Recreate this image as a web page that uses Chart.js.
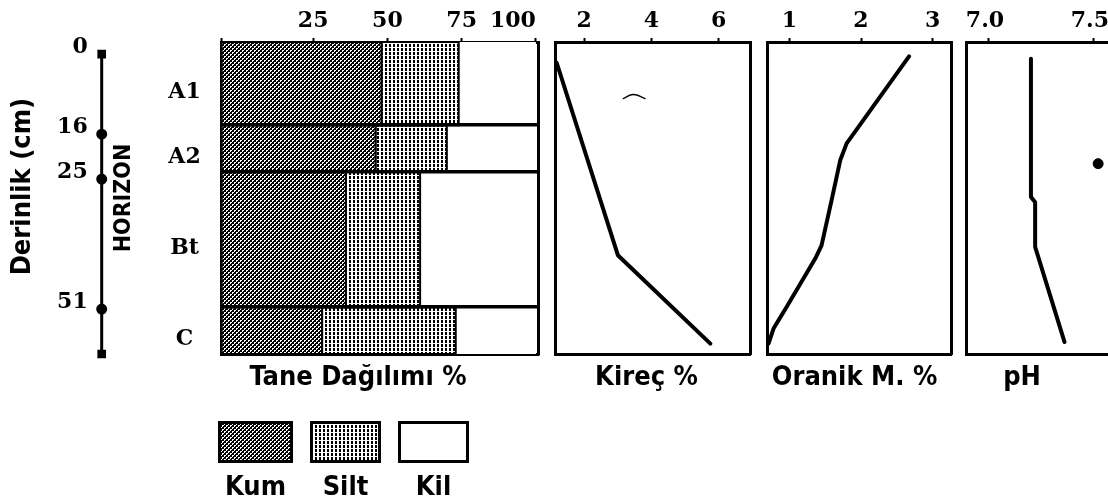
<!DOCTYPE html>
<html lang="tr">
<head>
<meta charset="utf-8">
<title>Toprak profili</title>
<script src="https://cdn.jsdelivr.net/npm/chart.js@4.4.1/dist/chart.umd.min.js"></script>
<style>
  html, body { margin: 0; padding: 0; background: #fff; }
  body { width: 1108px; height: 504px; position: relative; overflow: hidden; }
  canvas.panel { position: absolute; top: 0; }
  #legend { position: absolute; left: 218px; top: 421px; display: flex; gap: 17px; }
  .legend-item { display: flex; flex-direction: column; align-items: center; }
  .legend-item span { font: bold 27px 'DejaVu Sans Condensed', 'DejaVu Sans', sans-serif; line-height: 27px; margin-top: 9px; color: #000; }
</style>
</head>
<body>
<canvas id="depthChart" class="panel" width="140" height="395" style="left:0"></canvas>
<canvas id="textureChart" class="panel" width="492" height="395" style="left:112px"></canvas>
<canvas id="kirecChart" class="panel" width="213" height="395" style="left:540px"></canvas>
<canvas id="organikChart" class="panel" width="199" height="395" style="left:755px"></canvas>
<canvas id="phChart" class="panel" width="172" height="395" style="left:936px"></canvas>
<div id="legend"></div>
<script>
// Horizons (depth in cm)
const horizons = ['A1', 'A2', 'Bt', 'C'];
const horizonTop = [0, 16, 25, 51];
const horizonBottom = [16, 25, 51, 60];

// Tane dağılımı %
const kum = [48, 46, 36, 28];
const silt = [26, 24, 25, 45];
const kil = [26, 30, 39, 27];
const textureTicks = [25, 50, 75, 100];

// Kireç %
const kirecDepth = [4, 41, 58];
const kirec = [1.18, 3.0, 5.75];
const kirecTicks = [2, 4, 6];

// Organik madde %
const organikDepth = [2.75, 19.5, 22.75, 30.4, 39.1, 41.7, 51, 55.1, 58];
const organik = [2.67, 1.80, 1.71, 1.59, 1.45, 1.36, 0.96, 0.78, 0.71];
const organikTicks = [1, 2, 3];

// pH
const phDepth = [3.2, 29.8, 30.8, 39.4, 57.7];
const ph = [7.20, 7.20, 7.22, 7.22, 7.36];
const phTicks = [7.0, 7.5];

// stray marks on the scanned page
const kirecMarkDepth = [10.9, 10.1, 10.9];
const kirecMark = [3.16, 3.46, 3.81];
const phMarkDepth = [23.4];
const phMark = [7.52];

// axis ranges
const depthRange = [0, 60];
const textureRange = [-5.8, 100.8];
const kirecRange = [1.13, 6.93];
const organikRange = [0.693, 3.265];
const phRange = [6.894, 7.567];

const serif = "'DejaVu Serif', serif";
const sans = "'DejaVu Sans Condensed', 'DejaVu Sans', sans-serif";
const black = '#000';

Chart.defaults.color = black;

function toPoints(xs, ys) {
  return xs.map((x, i) => ({ x: x, y: ys[i] }));
}

// patterns for the texture fractions
function makeTile(draw) {
  const c = document.createElement('canvas');
  c.width = 4;
  c.height = 4;
  draw(c.getContext('2d'));
  return c;
}
const kumTile = makeTile(ctx => {
  ctx.fillStyle = '#000';
  ctx.fillRect(0, 0, 4, 4);
  ctx.fillStyle = '#fff';
  ctx.fillRect(0, 0, 2, 1);
  ctx.fillRect(0, 1, 1, 1);
  ctx.fillRect(2, 2, 2, 1);
  ctx.fillRect(2, 3, 1, 1);
});
const siltTile = makeTile(ctx => {
  ctx.fillStyle = '#fff';
  ctx.fillRect(0, 0, 4, 4);
  ctx.fillStyle = '#000';
  ctx.fillRect(1, 0, 2, 3);
});
const textureCtx = document.getElementById('textureChart').getContext('2d');
const fractions = [
  { label: 'Kum', values: kum, tile: kumTile, borderWidth: 2 },
  { label: 'Silt', values: silt, tile: siltTile, borderWidth: 2 },
  { label: 'Kil', values: kil, tile: null, borderWidth: 0 }
];
fractions.forEach(f => {
  f.fill = f.tile ? textureCtx.createPattern(f.tile, 'repeat') : '#fff';
});

const baseOptions = {
  responsive: false,
  animation: false,
  devicePixelRatio: 1,
  events: [],
  plugins: { legend: { display: false }, tooltip: { enabled: false } }
};

function titlePlugin(text) {
  return {
    display: true,
    text: text,
    position: 'bottom',
    color: black,
    font: { family: sans, size: 27, weight: 'bold', lineHeight: 1 },
    padding: { top: 10, bottom: 4 }
  };
}

// scales for one panel: ticks on top, box frame round the plot
function panelScales(range, ticks, leftWidth, rightWidth, labelFn, align) {
  const scales = {
    x: {
      type: 'linear',
      position: 'top',
      min: range[0],
      max: range[1],
      afterBuildTicks: s => { s.ticks = ticks.map(v => ({ value: v })); },
      afterFit: s => { s.height = 42; s.paddingLeft = 0; s.paddingRight = 0; },
      ticks: {
        autoSkip: false,
        maxRotation: 0,
        align: align || 'center',
        padding: 4,
        color: black,
        font: { family: serif, size: 22, weight: 'bold' },
        callback: labelFn || (v => v)
      },
      grid: { drawOnChartArea: false, tickLength: 4, tickWidth: 2, tickColor: black },
      border: { display: true, width: 3, color: black }
    },
    x2: {
      type: 'linear',
      position: 'bottom',
      ticks: { display: false },
      grid: { display: false },
      border: { display: true, width: 3, color: black },
      afterFit: s => { s.height = 0; }
    },
    y: {
      type: 'linear',
      position: 'left',
      min: depthRange[0],
      max: depthRange[1],
      reverse: true,
      ticks: { display: false },
      grid: { display: false },
      border: { display: true, width: 3, color: black },
      afterFit: s => { s.width = leftWidth; }
    }
  };
  if (rightWidth !== null) {
    scales.y2 = {
      type: 'linear',
      position: 'right',
      min: depthRange[0],
      max: depthRange[1],
      reverse: true,
      ticks: { display: false },
      grid: { display: false },
      border: { display: true, width: 3, color: black },
      afterFit: s => { s.width = rightWidth; }
    };
  }
  return scales;
}

function lineDataset(xs, depths) {
  return {
    data: toPoints(xs, depths),
    showLine: true,
    borderColor: black,
    borderWidth: 4,
    borderJoinStyle: 'round',
    borderCapStyle: 'round',
    pointRadius: 0,
    xAxisID: 'x',
    yAxisID: 'y'
  };
}

function panelOptions(title, scales) {
  return Object.assign({}, baseOptions, {
    layout: { autoPadding: false },
    plugins: Object.assign({}, baseOptions.plugins, { title: titlePlugin(title) }),
    scales: scales
  });
}

// Depth axis
const depthMarks = horizonTop.concat([horizonBottom[horizonBottom.length - 1]]);
new Chart(document.getElementById('depthChart'), {
  type: 'scatter',
  data: {
    datasets: [{
      data: depthMarks.map(d => ({ x: 0, y: d })),
      showLine: true,
      borderColor: black,
      borderWidth: 3,
      pointRadius: 4,
      pointStyle: depthMarks.map((d, i) => (i === 0 || i === depthMarks.length - 1) ? 'rect' : 'circle'),
      pointBackgroundColor: black,
      pointBorderColor: black,
      clip: false
    }]
  },
  options: Object.assign({}, baseOptions, {
    layout: { autoPadding: false, padding: { top: 5, bottom: 41 } },
    scales: {
      x: { type: 'linear', display: false, min: 0, max: 1 },
      y: {
        type: 'linear',
        min: -7,
        max: depthRange[1],
        reverse: true,
        afterBuildTicks: s => { s.ticks = horizonTop.map(v => ({ value: v })); },
        afterFit: s => { s.width = 101.7; },
        ticks: {
          padding: 6,
          labelOffset: -7,
          color: black,
          font: { family: serif, size: 22, weight: 'bold' }
        },
        grid: { display: false },
        border: { display: false },
        title: {
          display: true,
          text: 'Derinlik (cm)',
          color: black,
          font: { family: sans, size: 27, weight: 'bold', lineHeight: 1 },
          padding: { top: 9.5, bottom: 0 }
        }
      }
    }
  })
});

// Tane dağılımı
const textureDatasets = [];
horizons.forEach((h, i) => {
  let start = textureRange[0];
  let edge = 0;
  fractions.forEach(f => {
    edge += f.values[i];
    const top = horizonTop[i];
    const bottom = horizonBottom[i];
    textureDatasets.push({
      label: f.label + ' ' + h,
      data: [
        { x: start, y: top }, { x: edge, y: top },
        { x: edge, y: bottom }, { x: start, y: bottom }, { x: start, y: top }
      ],
      showLine: true,
      fill: 'shape',
      backgroundColor: f.fill,
      borderColor: black,
      borderWidth: f.borderWidth,
      pointRadius: 0,
      xAxisID: 'x',
      yAxisID: 'y'
    });
    start = edge;
  });
});

const textureScales = panelScales(textureRange, [textureRange[0]].concat(textureTicks), 109.7, 65.7,
  v => (v < 0 ? '' : v), 'inner');
textureScales.y.afterBuildTicks = s => {
  s.ticks = horizonTop.map((t, i) => ({ value: (t + horizonBottom[i]) / 2 }));
};
textureScales.y.ticks = {
  display: true,
  callback: (v, i) => horizons[i],
  crossAlign: 'center',
  padding: 13,
  labelOffset: 9,
  color: black,
  font: { family: serif, size: 22, weight: 'bold' }
};
textureScales.y.title = {
  display: true,
  text: 'HORİZON',
  color: black,
  font: { family: sans, size: 23, weight: 'bold', lineHeight: 1 },
  padding: { top: 0.5, bottom: 0 }
};
// horizon boundaries drawn over the fills (border on the same layer so it follows the grid)
textureScales.y2.afterBuildTicks = s => { s.ticks = horizonTop.slice(1).map(v => ({ value: v })); };
textureScales.y2.grid = { display: true, z: 1, drawOnChartArea: true, drawTicks: false, lineWidth: 3.5, color: black };
textureScales.y2.border = { display: true, z: 1, width: 3, color: black };

new Chart(textureCtx, {
  type: 'scatter',
  data: { datasets: textureDatasets },
  options: panelOptions('Tane Dağılımı %', textureScales)
});

// Kireç
const kirecMarkSet = lineDataset(kirecMark, kirecMarkDepth);
kirecMarkSet.borderWidth = 1.3;
kirecMarkSet.tension = 0.5;
new Chart(document.getElementById('kirecChart'), {
  type: 'scatter',
  data: { datasets: [lineDataset(kirec, kirecDepth), kirecMarkSet] },
  options: panelOptions('Kireç %', panelScales(kirecRange, kirecTicks, 15, 3))
});

// Organik madde
new Chart(document.getElementById('organikChart'), {
  type: 'scatter',
  data: { datasets: [lineDataset(organik, organikDepth)] },
  options: panelOptions('Oranik M. %', panelScales(organikRange, organikTicks, 12.3, 2.3))
});

// pH (panel runs off the right edge of the page)
const phScales = panelScales(phRange, phTicks, 30.7, null, v => v.toFixed(1));
phScales.x.ticks.labelOffset = -4;
new Chart(document.getElementById('phChart'), {
  type: 'scatter',
  data: {
    datasets: [
      lineDataset(ph, phDepth),
      {
        data: toPoints(phMark, phMarkDepth),
        pointRadius: 5,
        pointBackgroundColor: black,
        pointBorderColor: black,
        xAxisID: 'x',
        yAxisID: 'y'
      }
    ]
  },
  options: panelOptions('pH', phScales)
});

// Legend
const legendEl = document.getElementById('legend');
fractions.forEach((f, i) => {
  const item = document.createElement('div');
  item.className = 'legend-item';
  const box = document.createElement('canvas');
  box.width = i === 0 ? 75 : 71;
  box.height = 42;
  const bctx = box.getContext('2d');
  bctx.fillStyle = f.tile ? bctx.createPattern(f.tile, 'repeat') : '#fff';
  bctx.fillRect(0, 0, box.width, box.height);
  bctx.lineWidth = 3;
  bctx.strokeStyle = black;
  bctx.strokeRect(1.5, 1.5, box.width - 3, box.height - 3);
  const label = document.createElement('span');
  label.textContent = f.label;
  item.appendChild(box);
  item.appendChild(label);
  legendEl.appendChild(item);
});
</script>
</body>
</html>
